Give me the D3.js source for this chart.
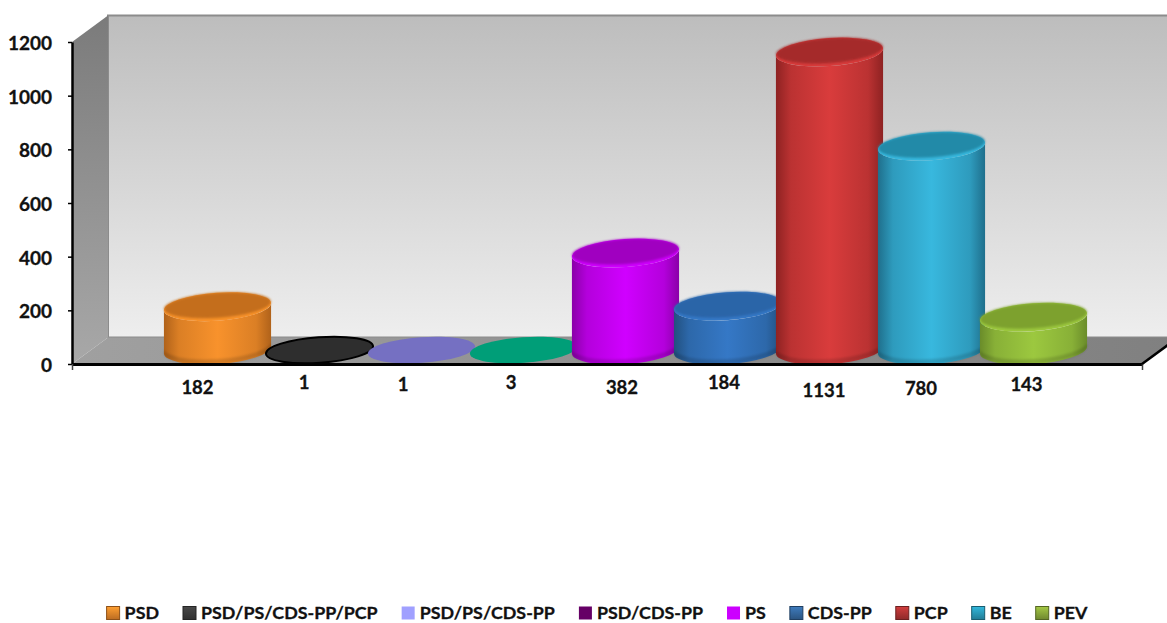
<!DOCTYPE html>
<html>
<head>
<meta charset="utf-8">
<script src="https://cdn.jsdelivr.net/npm/d3@7"></script>
<style>
  html, body { margin: 0; padding: 0; background: #fff; }
  svg { display: block; }
  text { font-family: Lato, "Open Sans", sans-serif; font-weight: 700; fill: #111; stroke: #111; stroke-width: 0.3px; }
</style>
</head>
<body>
<div class="chart"></div>
<script>
// data
var parties = ["PSD", "PSD/PS/CDS-PP/PCP", "PSD/PS/CDS-PP", "PSD/CDS-PP", "PS", "CDS-PP", "PCP", "BE", "PEV"];
var votes = [182, 1, 1, 3, 382, 184, 1131, 780, 143];
var yTicks = [0, 200, 400, 600, 800, 1000, 1200];

// colours per party
var bodyColors = ["#f8922c", "#333333", "#7570c2", "#009e78", "#d000ff", "#3578c6", "#d93c3c", "#38b8de", "#9cc83f"];
var edgeColors = ["#b0621a", "#222222", "#7570c2", "#009e78", "#8a00a8", "#22507f", "#8e2222", "#1f6f8c", "#6a8c2a"];
var topColors  = ["#c46e1b", "#2e2e2e", "#7570c2", "#009e78", "#a000c0", "#2a65a8", "#a52a2a", "#238aa8", "#7da12e"];
var legendColors = ["#e8862a", "#3c3c3c", "#a0a0ff", "#660066", "#cc00ff", "#35689f", "#b03434", "#2a9ab8", "#8aa83a"];
var legendGlossy = [true, true, false, false, false, true, true, true, true];

// the original labels were dragged around by hand, these are the nudges from the bar centre
var labelDx = [-20, -15.5, -18.5, -12.5, -3.5, -3.5, -5.5, -10.5, -7];
var labelDy = [24, 19, 21, 19, 24, 19, 27, 25, 21];

var width = 1167;
var height = 623;
var axisLeft = 72;
var axisRight = 1142;
var depthX = 36;
var depthY = -26.5;

var svg = d3.select(".chart")
  .append("svg")
  .attr("width", width)
  .attr("height", height);

var defs = svg.append("defs");

var yScale = d3.scaleLinear().domain([0, 1200]).range([364, 42]);
var xScale = d3.scaleBand().domain(parties).range([166.5, 1084.5]);

var y0 = yScale(0);
var yTop = yScale(1200);

// --- gradients for the box ---
function vGrad(id, c1, c2) {
  var g = defs.append("linearGradient").attr("id", id)
    .attr("x1", 0).attr("y1", 0).attr("x2", 0).attr("y2", 1);
  g.append("stop").attr("offset", "0%").attr("stop-color", c1);
  g.append("stop").attr("offset", "100%").attr("stop-color", c2);
}
vGrad("wallGrad", "#bdbdbd", "#eeeeee");
vGrad("sideGrad", "#7b7b7b", "#a8a8a8");

var floorGrad = defs.append("linearGradient").attr("id", "floorGrad");
floorGrad.append("stop").attr("offset", "0%").attr("stop-color", "#a0a0a0");
floorGrad.append("stop").attr("offset", "100%").attr("stop-color", "#808080");

defs.append("filter").attr("id", "blur")
  .attr("x", "-30%").attr("y", "-60%").attr("width", "160%").attr("height", "220%")
  .append("feGaussianBlur").attr("stdDeviation", 7);
defs.append("filter").attr("id", "soft")
  .attr("x", "-10%").attr("y", "-30%").attr("width", "120%").attr("height", "160%")
  .append("feGaussianBlur").attr("stdDeviation", 1);

var floorPts = [[axisLeft, y0], [axisLeft + depthX, y0 + depthY], [axisRight + depthX, y0 + depthY], [axisRight, y0]];
defs.append("clipPath").attr("id", "floorClip")
  .append("polygon").attr("points", floorPts.join(" "));

// --- 3d box ---
svg.append("rect")
  .attr("x", axisLeft + depthX)
  .attr("y", yTop + depthY)
  .attr("width", axisRight - axisLeft)
  .attr("height", y0 - yTop)
  .attr("fill", "url(#wallGrad)")
  .attr("stroke", "#8c8c8c")
  .attr("stroke-width", 2);

svg.append("polygon")
  .attr("points", [[axisLeft, yTop], [axisLeft + depthX, yTop + depthY], [axisLeft + depthX, y0 + depthY], [axisLeft, y0]].join(" "))
  .attr("fill", "url(#sideGrad)");

svg.append("polygon")
  .attr("points", floorPts.join(" "))
  .attr("fill", "url(#floorGrad)");

// --- cylinders ---
var tilt = -4; // degrees, the whole chart is viewed a bit rotated
var rx = 53.7;
var ry = 12.8;      // flat discs
var ryBar = 14;     // standing cylinders look a bit rounder
var baseY = y0 - 14;
var rad = tilt * Math.PI / 180;
var cosT = Math.cos(rad), sinT = Math.sin(rad);
// where the vertical sides touch the tilted ellipse
var t = Math.atan(-(ryBar / rx) * Math.tan(rad));
var sideX = rx * Math.cos(t) * cosT - ryBar * Math.sin(t) * sinT;
var sideY = rx * Math.cos(t) * sinT + ryBar * Math.sin(t) * cosT;

parties.forEach(function(p, i) {
  var mix = d3.interpolateRgb(edgeColors[i], bodyColors[i]);
  var g = defs.append("linearGradient").attr("id", "body" + i);
  g.append("stop").attr("offset", "0%").attr("stop-color", edgeColors[i]);
  g.append("stop").attr("offset", "14%").attr("stop-color", mix(0.6));
  g.append("stop").attr("offset", "50%").attr("stop-color", bodyColors[i]);
  g.append("stop").attr("offset", "86%").attr("stop-color", mix(0.6));
  g.append("stop").attr("offset", "100%").attr("stop-color", edgeColors[i]);
});

var bars = svg.selectAll(".bar")
  .data(votes)
  .enter()
  .append("g")
  .attr("class", "bar")
  .attr("transform", function(d, i) {
    return "translate(" + (xScale(parties[i]) + xScale.bandwidth() / 2) + ",0)";
  });

function barHeight(d) {
  // top face sits a little lower than the value, tiny values stay flat on the floor
  return Math.max(0, y0 - yScale(d) - 5.5);
}
var standing = bars.filter(function(d) { return barHeight(d) > 0; });

// soft shadow on the floor
standing.append("g")
  .attr("clip-path", "url(#floorClip)")
  .append("ellipse")
  .attr("cx", 0)
  .attr("cy", baseY - 2)
  .attr("rx", rx + 10)
  .attr("ry", ryBar + 5)
  .attr("fill", "rgba(0,0,0,0.6)")
  .attr("filter", "url(#blur)");

standing.append("path")
  .attr("fill", function(d) { return "url(#body" + votes.indexOf(d) + ")"; })
  .attr("d", function(d) {
    var top = baseY - barHeight(d);
    return "M" + (-sideX) + "," + (top - sideY) +
      "L" + (-sideX) + "," + (baseY - sideY) +
      "A" + rx + "," + ryBar + " " + tilt + " 0 0 " + sideX + "," + (baseY + sideY) +
      "L" + sideX + "," + (top + sideY) +
      "A" + rx + "," + ryBar + " " + tilt + " 0 1 " + (-sideX) + "," + (top - sideY) + "Z";
  });

// darker bevel along the bottom of the cylinder
standing.append("path")
  .attr("fill", "rgba(0,0,0,0.14)")
  .attr("filter", "url(#soft)")
  .attr("d", function(d) {
    var rise = Math.min(5, barHeight(d));
    return "M" + (-sideX) + "," + (baseY - sideY - rise) +
      "L" + (-sideX) + "," + (baseY - sideY) +
      "A" + rx + "," + ryBar + " " + tilt + " 0 0 " + sideX + "," + (baseY + sideY) +
      "L" + sideX + "," + (baseY + sideY - rise) +
      "A" + rx + "," + ryBar + " " + tilt + " 0 1 " + (-sideX) + "," + (baseY - sideY - rise) + "Z";
  });

// lip of the top face
standing.append("ellipse")
  .attr("rx", rx)
  .attr("ry", ryBar)
  .attr("transform", function(d) { return "translate(0," + (baseY - barHeight(d)) + ") rotate(" + tilt + ")"; })
  .attr("fill", function(d) { return bodyColors[votes.indexOf(d)]; });

// top face
bars.append("ellipse")
  .attr("rx", function(d) { return barHeight(d) > 0 ? rx - 0.3 : rx; })
  .attr("ry", function(d) { return barHeight(d) > 0 ? ryBar - 1.6 : ry; })
  .attr("transform", function(d) {
    var h = barHeight(d);
    return "translate(0," + (baseY - h - (h > 0 ? 1.4 : 0)) + ") rotate(" + tilt + ")";
  })
  .attr("fill", function(d, i) { return topColors[i]; })
  .attr("stroke", function(d, i) { return i === 1 ? "#000" : "none"; })
  .attr("stroke-width", 2)
  .attr("filter", function(d) { return barHeight(d) > 0 ? "url(#soft)" : null; });

// --- axes ---
var yAxis = d3.axisLeft(yScale).tickValues(yTicks).tickSize(4).tickSizeOuter(0).tickFormat(d3.format("d"));
var yG = svg.append("g")
  .attr("id", "y-axis")
  .attr("transform", "translate(" + axisLeft + ",0)")
  .call(yAxis);
yG.select(".domain").attr("stroke", "#000").attr("stroke-width", 2.5);
yG.selectAll("line").attr("stroke", "#000").attr("stroke-width", 1.5);
yG.selectAll("text")
  .attr("x", -20)
  .attr("dy", "0.4em")
  .attr("text-anchor", "end")
  .style("font-size", "19px")
  .style("font-family", "Lato, 'Open Sans', sans-serif")
  .style("font-weight", "700")
  .attr("fill", "#111");

var xAxisScale = d3.scaleLinear().domain([0, 1]).range([axisLeft, axisRight]);
var xAxis = d3.axisBottom(xAxisScale).tickValues([0, 1]).tickSize(6).tickSizeOuter(0).tickFormat("");
var xG = svg.append("g")
  .attr("id", "x-axis")
  .attr("transform", "translate(0," + y0 + ")")
  .call(xAxis);
xG.select(".domain").attr("stroke", "#000").attr("stroke-width", 3);
xG.selectAll("line").attr("stroke", "#444").attr("stroke-width", 1.5);

svg.append("line")
  .attr("x1", axisRight).attr("y1", y0)
  .attr("x2", axisRight + depthX).attr("y2", y0 + depthY)
  .attr("stroke", "#000").attr("stroke-width", 2.5);

// --- value labels ---
svg.selectAll(".value")
  .data(votes)
  .enter()
  .append("text")
  .attr("class", "value")
  .attr("x", function(d, i) { return xScale(parties[i]) + xScale.bandwidth() / 2 + labelDx[i]; })
  .attr("y", function(d, i) { return y0 + labelDy[i]; })
  .attr("dy", "0.35em")
  .attr("text-anchor", "middle")
  .style("font-size", "18.5px")
  .text(function(d) { return d; });

// --- legend ---
var swatch = 13;
var legendY = 613;
var legend = svg.append("g").attr("id", "legend");
var gaps = 24;
var cursor = 0;

parties.forEach(function(p, i) {
  var item = legend.append("g");
  var lg = defs.append("linearGradient").attr("id", "leg" + i)
    .attr("x1", 0).attr("y1", 0).attr("x2", 0).attr("y2", 1);
  lg.append("stop").attr("offset", "0%").attr("stop-color", d3.color(legendColors[i]).brighter(0.5));
  lg.append("stop").attr("offset", "100%").attr("stop-color", d3.color(legendColors[i]).darker(0.6));

  item.append("rect")
    .attr("x", 0)
    .attr("y", -swatch / 2)
    .attr("width", swatch)
    .attr("height", swatch)
    .attr("fill", legendGlossy[i] ? "url(#leg" + i + ")" : legendColors[i])
    .attr("stroke", legendGlossy[i] ? d3.color(legendColors[i]).darker(1.4) : "none")
    .attr("stroke-width", 1);

  var label = item.append("text")
    .attr("x", swatch + 5)
    .attr("dy", "0.35em")
    .style("font-size", "17.85px")
    .text(p);

  item.attr("transform", "translate(" + cursor + "," + legendY + ")");
  cursor += swatch + 5 + label.node().getComputedTextLength() + gaps;
});
legend.attr("transform", "translate(" + ((width - (cursor - gaps)) / 2 + 13.5) + ",0)");
</script>
</body>
</html>
